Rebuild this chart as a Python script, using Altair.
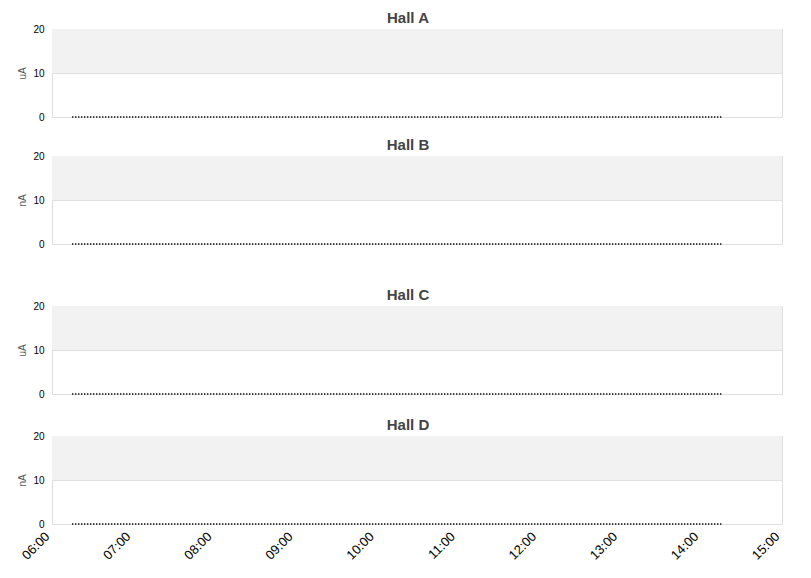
import altair as alt
import pandas as pd

halls = ["Hall A", "Hall B", "Hall C", "Hall D"]
units = ["uA", "nA", "uA", "nA"]
times = ["2024-01-01T06:15:00", "2024-01-01T14:16:00"]
currents = {
    "Hall A": [0, 0],
    "Hall B": [0, 0],
    "Hall C": [0, 0],
    "Hall D": [0, 0],
}
band = [10, 20]
y_ticks = [0, 10, 20]
hours = list(range(6, 16))

W, H = 730, 88


def dt(h):
    return alt.DateTime(year=2024, month=1, date=1, hours=h)


x_scale = alt.Scale(domain=[dt(hours[0]), dt(hours[-1])])
y_scale = alt.Scale(domain=[0, 20], nice=False)


def panel(name, unit, show_x):
    df = pd.DataFrame({"time": times, "value": currents[name]})
    band_df = pd.DataFrame({"lo": [band[0]], "hi": [band[1]]})

    if show_x:
        x_axis = alt.Axis(values=[dt(h) for h in hours], format="%H:%M",
                          labelAngle=-45, labelAlign="right", labelBaseline="bottom",
                          ticks=False, domain=False, grid=False, title=None,
                          labelFontSize=13, labelPadding=15)
    else:
        x_axis = None

    y_axis = alt.Axis(values=y_ticks, title=unit, ticks=False, domain=False,
                      grid=True, gridColor="#e0e0e0", labelPadding=8,
                      titleFontSize=10, titleFontWeight="normal", titleColor="#555",
                      titlePadding=5)

    shade = alt.Chart(band_df).mark_rect(color="#f2f2f2").encode(
        x=alt.value(0), x2=alt.value(W),
        y=alt.Y("lo:Q", scale=y_scale, axis=y_axis),
        y2="hi:Q",
    )
    line = alt.Chart(df).mark_line(color="#000", strokeDash=[1, 2], strokeWidth=2).encode(
        x=alt.X("time:T", scale=x_scale, axis=x_axis),
        y=alt.Y("value:Q", scale=y_scale, axis=y_axis),
    )
    return alt.layer(shade, line).properties(
        width=W, height=H,
        title=alt.Title(name, fontSize=15, fontWeight="bold", color="#444",
                        font="Liberation Sans", offset=-2, dx=-9),
    )


panels = [panel(h, u, i == len(halls) - 1) for i, (h, u) in enumerate(zip(halls, units))]
top = alt.vconcat(panels[0], panels[1], spacing=14)
bottom = alt.vconcat(panels[2], panels[3], spacing=17)

chart = alt.vconcat(top, bottom, spacing=37).configure_view(
    stroke="#d9d9d9"
).configure_axis(
    labelColor="#333", labelFontSize=11, labelFont="DejaVu Sans"
).configure(padding={"left": 9, "top": 2, "right": 5, "bottom": 0})

chart.save("out.html", embed_options={"renderer": "svg", "actions": False})
